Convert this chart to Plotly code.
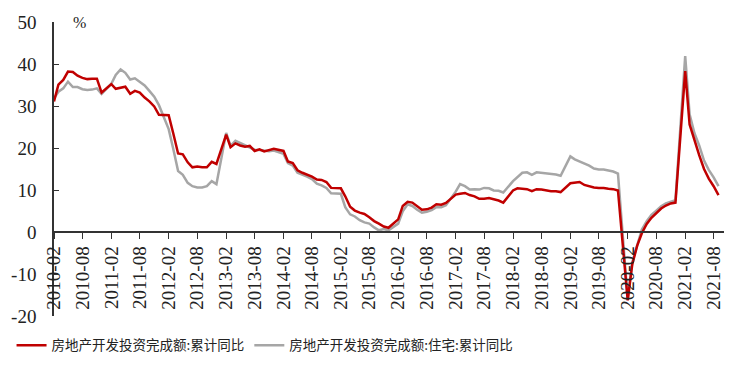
import plotly.graph_objects as go

years = list(range(2010, 2022))
months = []
for yr in years:
    for mo in range(2, 13):
        if yr == 2021 and mo > 9:
            break
        months.append(f"{yr}-{mo:02d}-01")

total_yoy = [
    31.1, 35.1, 36.2, 38.2, 38.1, 37.2, 36.7, 36.4, 36.5, 36.5, 33.2,
    35.2, 34.1, 34.3, 34.6, 32.9, 33.6, 33.2, 32.0, 31.1, 29.9, 27.9,
    27.8, 23.5, 18.7, 18.5, 16.6, 15.4, 15.6, 15.4, 15.4, 16.7, 16.2,
    23.2, 20.2, 21.1, 20.6, 20.3, 20.5, 19.3, 19.7, 19.2, 19.5, 19.8,
    19.3, 16.8, 16.4, 14.7, 14.1, 13.7, 13.2, 12.5, 12.4, 11.9, 10.5,
    10.4, 8.5, 6.0, 5.1, 4.6, 4.3, 3.5, 2.6, 2.0, 1.3, 1.0,
    3.0, 6.2, 7.2, 7.0, 6.1, 5.3, 5.4, 5.8, 6.6, 6.5, 6.9,
    8.9, 9.1, 9.3, 8.8, 8.5, 7.9, 7.9, 8.1, 7.8, 7.5, 7.0,
    9.9, 10.4, 10.3, 10.2, 9.7, 10.2, 10.1, 9.9, 9.7, 9.7, 9.5,
    11.6, 11.8, 11.9, 11.2, 10.9, 10.6, 10.5, 10.5, 10.3, 10.2, 9.9,
    -16.3, -7.7, -3.3, -0.3, 1.9, 3.4, 4.6, 5.6, 6.3, 6.8, 7.0,
    38.3, 25.6, 21.6, 18.3, 15.0, 12.7, 10.9, 8.8,
]

residential_yoy = [
    31.8, 33.4, 34.2, 35.8, 34.5, 34.5, 34.0, 33.8, 33.9, 34.2, 32.9,
    35.3, 37.4, 38.7, 37.9, 36.3, 36.6, 35.8, 34.9, 33.6, 32.2, 30.2,
    24.5, 19.8, 14.5, 13.6, 11.7, 10.9, 10.6, 10.6, 10.9, 12.1, 11.4,
    23.6, 20.5, 21.7, 21.2, 20.7, 20.2, 19.6, 19.5, 19.3, 19.2, 19.4,
    18.6, 16.4, 15.8, 14.1, 13.7, 13.2, 12.6, 11.5, 11.1, 10.5, 9.2,
    9.1, 5.9, 4.2, 3.7, 2.8, 2.3, 2.0, 1.1, 0.4, 0.7, 0.4,
    2.0, 4.9, 6.6, 6.2, 5.3, 4.6, 4.8, 5.2, 5.9, 5.9, 6.4,
    9.6, 11.4, 10.9, 10.1, 10.2, 10.1, 10.5, 10.4, 9.9, 9.8, 9.4,
    12.1, 13.0, 14.1, 14.2, 13.6, 14.2, 14.1, 14.0, 13.8, 13.7, 13.4,
    18.0, 17.3, 16.8, 16.3, 15.8, 15.1, 14.9, 14.9, 14.6, 14.4, 13.9,
    -16.0, -7.2, -3.0, 0.6, 2.6, 4.1, 5.1, 6.1, 6.8, 7.3, 7.6,
    41.9, 28.0, 23.5, 20.6, 17.0, 14.8, 13.0, 10.9,
]

series_names = ["房地产开发投资完成额:累计同比", "房地产开发投资完成额:住宅:累计同比"]
y_tickvals = [-20, -10, 0, 10, 20, 30, 40, 50]
y_ticktext = ["-20", "-10", "0", "10", "20", "30", "40", "50"]

serif = "Liberation Serif, Times New Roman, serif"
cjk = "Noto Sans CJK SC, sans-serif"

fig = go.Figure()
fig.add_trace(go.Scatter(x=months, y=residential_yoy, mode="lines", name=series_names[1],
                         line=dict(color="#A6A6A6", width=2.5)))
fig.add_trace(go.Scatter(x=months, y=total_yoy, mode="lines", name=series_names[0],
                         line=dict(color="#C00000", width=2.5)))

fig.update_layout(
    width=734, height=365,
    margin=dict(l=46, r=18, t=14, b=57, autoexpand=False),
    paper_bgcolor="white", plot_bgcolor="white",
    showlegend=True,
    legend=dict(orientation="h", x=0.315, xanchor="center", y=-0.10, yanchor="middle",
                font=dict(family=cjk, size=13.5, color="#222"), traceorder="reversed",
                itemwidth=30),
    xaxis=dict(
        type="date",
        range=["2010-02-01", "2021-10-06"],
        tick0="2010-02-01", dtick="M6", tickformat="%Y-%m",
        tickangle=-90,
        anchor="free", position=20 / 70,
        showline=True, linecolor="#333", linewidth=1.5,
        ticks="outside", ticklen=6, tickcolor="#333",
        showgrid=False, zeroline=False, automargin=False,
        tickfont=dict(family=serif, size=19, color="#222"),
    ),
    yaxis=dict(
        range=[-20, 50], tickvals=y_tickvals, ticktext=y_ticktext,
        showline=True, linecolor="#333", linewidth=1.5,
        ticks="inside", ticklen=5, tickcolor="#333",
        showgrid=False, zeroline=False, automargin=False,
        ticklabelstandoff=12,
        tickfont=dict(family=serif, size=19, color="#222"),
    ),
    annotations=[dict(text="%", x=0.025, y=1.0, xref="paper", yref="paper",
                      xanchor="left", yanchor="middle", showarrow=False,
                      font=dict(family=serif, size=16, color="#222"))],
)

fig.write_html("out.html")
